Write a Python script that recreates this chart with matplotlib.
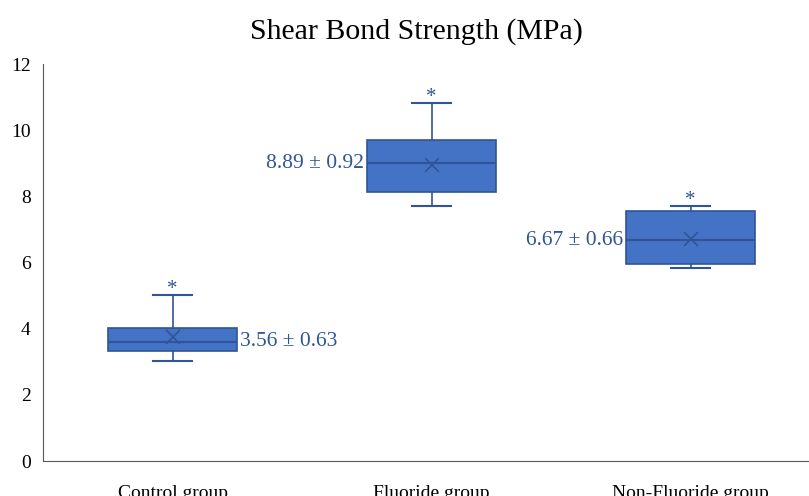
import matplotlib.pyplot as plt

plt.rcParams['font.family'] = ['Liberation Serif', 'DejaVu Serif']

# data
groups = ['Control group', 'Fluoride group', 'Non-Fluoride group']
whisker_low = [3.02, 7.7, 5.83]
q1 = [3.32, 8.13, 5.95]
median = [3.6, 9.0, 6.68]
q3 = [4.02, 9.7, 7.55]
whisker_high = [5.02, 10.82, 7.7]
means = [3.75, 8.94, 6.7]
labels = ['3.56 ± 0.63', '8.89 ± 0.92', '6.67 ± 0.66']
yticks = [0, 2, 4, 6, 8, 10, 12]

fill = '#4472C4'
edge = '#2F5597'
txt = '#2F5597'

fig = plt.figure(figsize=(8.09, 4.96), dpi=100)
ax = fig.add_axes([43 / 809, (496 - 461) / 496, (820 - 43) / 809, (461 - 64) / 496])

stats = []
for i in range(len(groups)):
    stats.append(dict(med=median[i], q1=q1[i], q3=q3[i], whislo=whisker_low[i],
                      whishi=whisker_high[i], mean=means[i], fliers=[], label=groups[i]))

pos = [1, 2, 3]
ax.bxp(stats, positions=pos, widths=0.5, patch_artist=True, showmeans=True,
       showfliers=False,
       boxprops=dict(facecolor=fill, edgecolor=edge, linewidth=1.2),
       medianprops=dict(color=edge, linewidth=1.5),
       whiskerprops=dict(color=edge, linewidth=1.2),
       capprops=dict(color=edge, linewidth=1.5),
       capwidths=0.15,
       meanprops=dict(marker='x', markeredgecolor=edge, markersize=10, markeredgewidth=1.2))

# asterisks above the whiskers
for p, w in zip(pos, whisker_high):
    ax.text(p, w - 0.12, '*', ha='center', va='bottom', fontsize=15, color=txt)

# mean ± sd labels
ax.text(pos[0] + 0.26, median[0], labels[0], ha='left', va='center', fontsize=15.5, color=txt)
ax.text(pos[1] - 0.26, median[1], labels[1], ha='right', va='center', fontsize=15.5, color=txt)
ax.text(pos[2] - 0.26, median[2], labels[2], ha='right', va='center', fontsize=15.5, color=txt)

ax.set_xlim(0.5, 3.5)
ax.set_ylim(0, 12)
ax.set_yticks(yticks)
ax.tick_params(axis='both', length=0, labelsize=14)
ax.tick_params(axis='y', pad=9)
ax.tick_params(axis='x', pad=17)
for s in ['top', 'right']:
    ax.spines[s].set_visible(False)
for s in ['left', 'bottom']:
    ax.spines[s].set_color('#595959')

fig.text(416 / 809, 1 - 32 / 496, 'Shear Bond Strength (MPa)', ha='center', va='center', fontsize=21.5)

fig.savefig('out.png', dpi=100)
